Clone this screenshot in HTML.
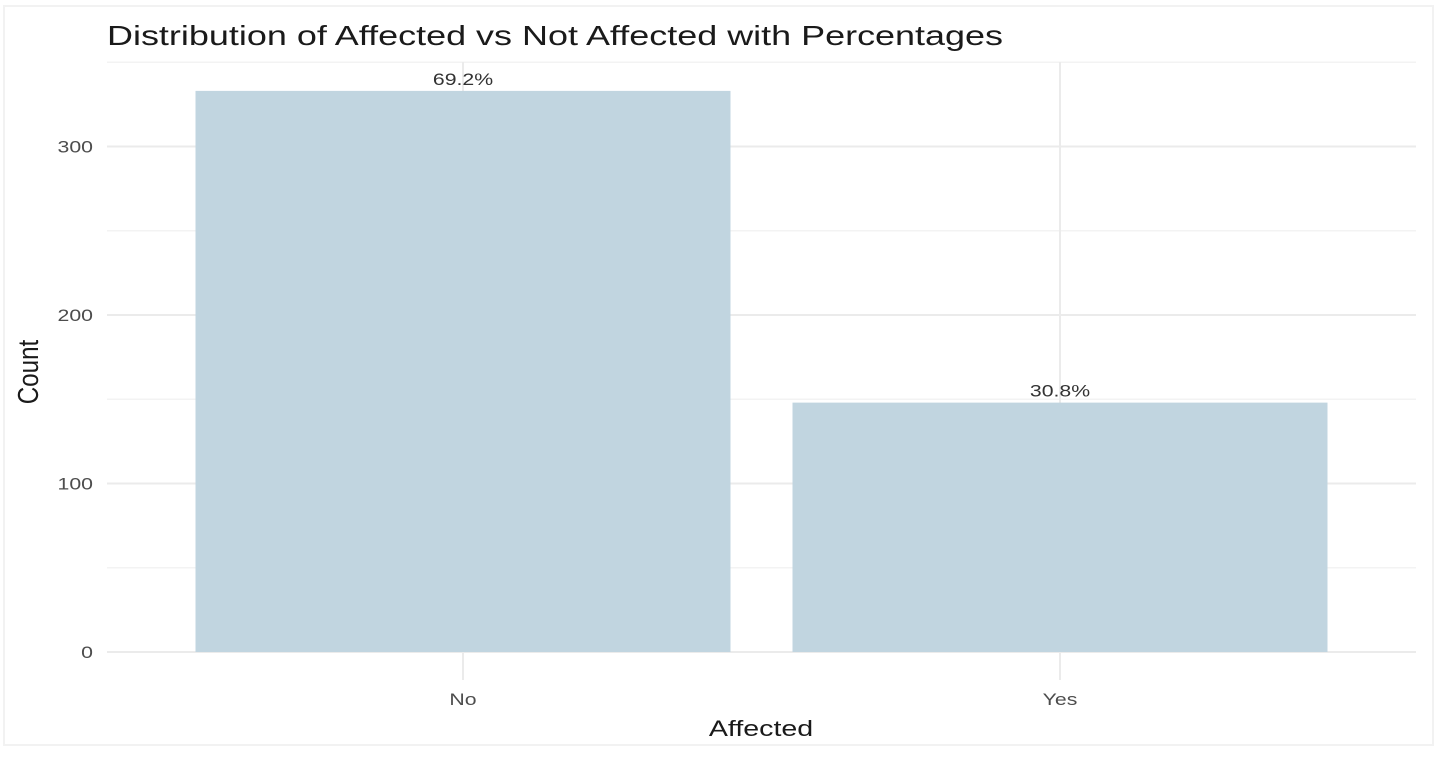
<!DOCTYPE html>
<html><head><meta charset="utf-8"><style>
html,body{margin:0;padding:0;background:#fff;width:1440px;height:762px;overflow:hidden}
svg{display:block;font-family:"Liberation Sans",Arial,sans-serif}
</style></head><body>
<svg id="chart" width="1440" height="762">
<rect x="4" y="6" width="1429" height="739" fill="#fff" stroke="#f2f2f2" stroke-width="2"/>
<g id="grid"></g><g id="bars"></g><g id="labels"></g>
<text x="107" y="45" font-size="28" fill="#1a1a1a" textLength="896" lengthAdjust="spacingAndGlyphs">Distribution of Affected vs Not Affected with Percentages</text>
<text transform="translate(761,736) scale(1.3,1)" font-size="22" fill="#1a1a1a" text-anchor="middle">Affected</text>
<text transform="translate(38,372) rotate(-90) scale(1.1,1.3)" font-size="22" fill="#1a1a1a" text-anchor="middle">Count</text>
</svg>
<script>
const categories=["No","Yes"];
const counts=[333,148];
const yTicks=[0,100,200,300];
const NS="http://www.w3.org/2000/svg";
const plotLeft=107,plotRight=1416,plotTop=62,y0=652,pxPer=1.685;
function yPos(v){return y0-v*pxPer;}
function xc(i){return 463+i*597;}
function mk(tag,attrs,parent){const e=document.createElementNS(NS,tag);for(const k in attrs)e.setAttribute(k,attrs[k]);document.getElementById(parent).appendChild(e);return e;}
const total=counts.reduce((a,b)=>a+b,0);
for(let i=0;i<yTicks.length;i++){
  const v=yTicks[i]+50;
  const ln=mk('line',{x1:plotLeft,x2:plotRight,y1:yPos(v),y2:yPos(v),stroke:'#f3f3f3','stroke-width':1.5},'grid');
  
  
}
yTicks.forEach(t=>{
  const ln=mk('line',{x1:plotLeft,x2:plotRight,y1:yPos(t),y2:yPos(t),stroke:'#ebebeb','stroke-width':2},'grid');
  
  
  const tx=mk('text',{transform:'translate(93,'+(yPos(t)+6)+') scale(1.25,1)','font-size':17,fill:'#4d4d4d','text-anchor':'end'},'labels');
  tx.textContent=t;
  
  
});
categories.forEach((c,i)=>{
  const ln=mk('line',{x1:xc(i),x2:xc(i),y1:plotTop,y2:680,stroke:'#ebebeb','stroke-width':2},'grid');
  
  
  const w=535;
  const r=mk('rect',{x:xc(i)-w/2,y:yPos(counts[i]),width:w,height:y0-yPos(counts[i]),fill:'#c1d5e0'},'bars');
  
  
  const p=mk('text',{transform:'translate('+xc(i)+','+(yPos(counts[i])-6)+') scale(1.25,1)','font-size':17,fill:'#333','text-anchor':'middle'},'labels');
  p.textContent=(counts[i]/total*100).toFixed(1)+'%';
  
  
  const xl=mk('text',{transform:'translate('+xc(i)+',705) scale(1.25,1)','font-size':17,fill:'#4d4d4d','text-anchor':'middle'},'labels');
  xl.textContent=c;
  
  
});
</script>
</body></html>
